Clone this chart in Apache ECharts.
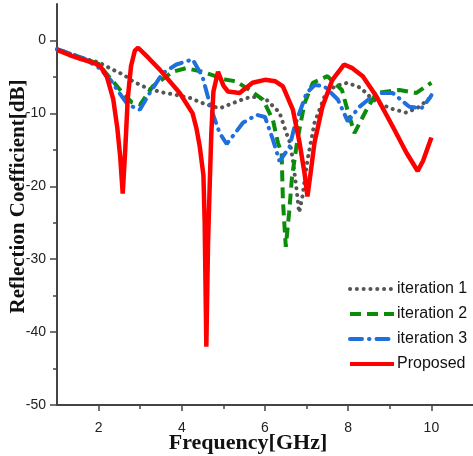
<!DOCTYPE html>
<html>
<head>
<meta charset="utf-8">
<script src="https://cdn.jsdelivr.net/npm/echarts@6/dist/echarts.min.js"></script>
<style>
  html, body { margin: 0; padding: 0; background: #fff; }
  #chart { width: 473px; height: 456px; }
</style>
</head>
<body>
<div id="chart"></div>
<script>
// tick labels
const xMajor = [2, 4, 6, 8, 10];
const xMinor = [3, 5, 7, 9];
const yMajor = [-50, -40, -30, -20, -10, 0];
const yMinor = [-45, -35, -25, -15, -5];

// iteration 1
const freq1 = [1, 1.66, 2, 2.34, 2.6, 2.82, 3.15, 3.5, 3.8, 4.2, 4.59, 4.91, 5.23, 5.5, 5.7, 6.03, 6.35, 6.5, 6.6, 6.67, 6.76, 6.82, 6.9, 7.02, 7.19, 7.43, 7.67, 7.98, 8.3, 8.59, 9.0, 9.4, 9.71, 10];
const iter1 = [-1.2, -2.5, -3.0, -4.0, -4.7, -5.6, -6.5, -7.1, -7.4, -7.9, -8.8, -9.3, -8.6, -8.0, -7.7, -8.1, -9.9, -12.5, -14, -16.4, -20.5, -23.6, -21.4, -16.4, -11.3, -7.7, -6.3, -5.8, -6.5, -8.1, -9.3, -9.9, -9.1, -7.7];

// iteration 2
const freq2 = [1, 1.66, 2, 2.15, 2.55, 2.8, 3.0, 3.3, 3.78, 4.1, 4.5, 5.07, 5.3, 5.63, 5.95, 6.19, 6.31, 6.4, 6.43, 6.5, 6.58, 6.65, 6.78, 6.95, 7.15, 7.5, 7.85, 7.98, 8.15, 8.44, 8.68, 9.23, 9.64, 10];
const iter2 = [-1.2, -2.5, -3.2, -4.3, -7.0, -8.5, -8.8, -6.3, -4.3, -3.8, -4.3, -5.4, -5.6, -6.8, -8.1, -10.9, -14, -15.5, -21.9, -28.3, -23.6, -18.7, -13.6, -8.6, -5.8, -4.9, -6.8, -9.5, -12.7, -9.5, -7.2, -6.8, -7.2, -5.8];

// iteration 3
const freq3 = [1, 1.66, 2.02, 2.3, 2.5, 2.7, 2.99, 3.23, 3.54, 3.87, 4.26, 4.5, 4.71, 4.91, 5.08, 5.47, 5.8, 6.0, 6.19, 6.35, 6.59, 6.71, 7.0, 7.2, 7.43, 7.75, 7.99, 8.27, 8.68, 9.07, 9.47, 9.76, 9.96, 10];
const iter3 = [-1.2, -2.5, -3.8, -5.5, -7.2, -8.8, -9.5, -7.2, -4.5, -3.3, -2.6, -5.0, -9.5, -12.7, -14.2, -11.3, -10.2, -10.5, -13.6, -16.6, -14.6, -11.8, -7.2, -6.1, -6.3, -8.1, -11.1, -9.1, -7.2, -7.2, -9.1, -9.3, -7.9, -7.5];

// proposed
const freqP = [1, 1.3, 1.6, 1.9, 2.05, 2.2, 2.35, 2.45, 2.52, 2.58, 2.64, 2.7, 2.78, 2.87, 2.95, 3.2, 3.47, 3.95, 4.26, 4.35, 4.43, 4.52, 4.55, 4.59, 4.63, 4.67, 4.71, 4.76, 4.87, 5.0, 5.11, 5.39, 5.7, 6.0, 6.25, 6.43, 6.67, 6.83, 6.95, 7.02, 7.1, 7.19, 7.38, 7.62, 7.9, 8.1, 8.35, 8.68, 9.07, 9.4, 9.67, 9.8, 10];
const proposed = [-1.3, -2.0, -2.6, -3.1, -3.6, -5.0, -8.0, -12, -16, -21, -15, -8, -3.5, -1.4, -1.0, -2.4, -4.0, -7.2, -10, -12, -14.5, -18.5, -25, -42, -28, -20, -12.7, -7, -4.3, -6.2, -7.0, -7.2, -5.8, -5.4, -5.6, -6.3, -9.5, -14, -18.2, -21.4, -18, -14, -9.1, -5.4, -3.3, -3.8, -4.9, -7.7, -11.8, -15.4, -17.9, -16.5, -13.3];

const zip = (xs, ys) => xs.map((x, i) => [x, ys[i]]);

const labelFont = { color: '#222', fontSize: 14, fontFamily: 'Liberation Sans, Arial, sans-serif' };
const titleFont = { color: '#111', fontWeight: 'bold', fontFamily: 'Liberation Serif, Times New Roman, serif' };
const axisCol = '#444';

const chart = echarts.init(document.getElementById('chart'));

chart.setOption({
  animation: false,
  backgroundColor: '#fff',
  grid: { left: 57, right: 0, top: 4, bottom: 51, outerBoundsMode: 'none', containLabel: false },
  legend: {
    orient: 'vertical',
    left: 348,
    top: 281,
    itemWidth: 44,
    itemHeight: 14,
    itemGap: 9,
    padding: 0,
    itemStyle: { color: 'transparent', borderWidth: 0, opacity: 0 },
    lineStyle: { width: 4 },
    textStyle: { color: '#111', fontSize: 16, fontFamily: 'Liberation Sans, Arial, sans-serif', padding: [0, 0, 0, -2] },
    data: ['iteration 1', 'iteration 2', 'iteration 3', 'Proposed'],
  },
  xAxis: [
    {
      type: 'value',
      min: 1,
      max: 11,
      name: 'Frequency[GHz]',
      nameLocation: 'middle',
      nameGap: 27,
      nameMoveOverlap: false,
      nameTextStyle: Object.assign({ fontSize: 22, padding: [0, 34, 0, 0] }, titleFont),
      axisLine: { onZero: false, lineStyle: { color: axisCol, width: 2 } },
      axisTick: { show: true, inside: false, length: 6, lineStyle: { color: axisCol, width: 1.5 }, customValues: xMajor },
      axisLabel: Object.assign({ margin: 16, customValues: xMajor }, labelFont),
      splitLine: { show: false },
    },
    {
      type: 'value',
      min: 1,
      max: 11,
      position: 'bottom',
      axisLine: { show: false, onZero: false },
      axisTick: { show: true, length: 4, lineStyle: { color: axisCol, width: 1.5 }, customValues: xMinor },
      axisLabel: { show: false },
      splitLine: { show: false },
    },
  ],
  yAxis: [
    {
      type: 'value',
      min: -50,
      max: 5,
      name: 'Reflection Coefficient[dB]',
      nameLocation: 'middle',
      nameGap: 28,
      nameMoveOverlap: false,
      nameTextStyle: Object.assign({ fontSize: 21, padding: [0, 0, 0, 16] }, titleFont),
      axisLine: { onZero: false, lineStyle: { color: axisCol, width: 2 } },
      axisTick: { show: true, length: 7, lineStyle: { color: axisCol, width: 1.5 }, customValues: yMajor },
      axisLabel: Object.assign({ margin: 11, customValues: yMajor }, labelFont),
      splitLine: { show: false },
    },
    {
      type: 'value',
      min: -50,
      max: 5,
      position: 'left',
      axisLine: { show: false, onZero: false },
      axisTick: { show: true, length: 4, lineStyle: { color: axisCol, width: 1.5 }, customValues: yMinor },
      axisLabel: { show: false },
      splitLine: { show: false },
    },
  ],
  series: [
    {
      name: 'iteration 1',
      type: 'line',
      symbol: 'none',
      color: '#555555',
      lineStyle: { color: '#555555', width: 4, type: [0.1, 6.7], cap: 'round' },
      data: zip(freq1, iter1),
      z: 2,
    },
    {
      name: 'iteration 2',
      type: 'line',
      symbol: 'none',
      color: '#0b8c0b',
      lineStyle: { color: '#0b8c0b', width: 4, type: [11, 6], cap: 'butt' },
      data: zip(freq2, iter2),
      z: 3,
    },
    {
      name: 'iteration 3',
      type: 'line',
      symbol: 'none',
      color: '#1f6fdc',
      lineStyle: { color: '#1f6fdc', width: 4, type: [12, 7, 0.5, 7], cap: 'round' },
      data: zip(freq3, iter3),
      z: 4,
    },
    {
      name: 'Proposed',
      type: 'line',
      symbol: 'none',
      color: '#ff0000',
      lineStyle: { color: '#ff0000', width: 4.5 },
      data: zip(freqP, proposed),
      z: 5,
    },
  ],
});
</script>
</body>
</html>
